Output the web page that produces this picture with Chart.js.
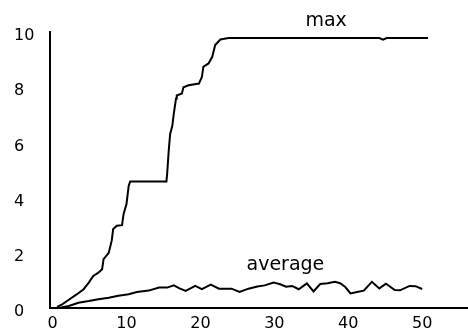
<!DOCTYPE html>
<html>
<head>
<meta charset="utf-8">
<script src="https://cdn.jsdelivr.net/npm/chart.js@4/dist/chart.umd.min.js"></script>
<style>
  body { margin: 0; background: #fff; }
  #wrap { width: 468px; height: 331px; }
</style>
</head>
<body>
<div id="wrap"><canvas id="grafica" width="468" height="331"></canvas></div>
<script>
// generation / fitness values
var maxX = [0.6, 1.3, 2.2, 3.3, 4.2, 4.9, 5.5, 6.2, 6.7, 6.9, 7.6, 8.0, 8.2, 8.7, 9.4, 9.6, 10.0, 10.3, 10.5,
            15.4, 15.5, 15.7, 15.9, 16.2, 16.4, 16.7, 16.8, 17.5, 17.7, 18.4, 19.8, 20.2, 20.4, 21.1, 21.6,
            22.0, 22.7, 23.8, 30, 40, 44.2, 44.7, 45.2, 50.8];
var maxY = [0.04, 0.13, 0.3, 0.5, 0.68, 0.92, 1.16, 1.28, 1.4, 1.77, 2.0, 2.44, 2.86, 2.98, 3.0, 3.4, 3.77, 4.43, 4.58,
            4.58, 4.86, 5.65, 6.3, 6.6, 7.04, 7.59, 7.7, 7.77, 8.0, 8.07, 8.13, 8.37, 8.74, 8.86, 9.1,
            9.53, 9.73, 9.78, 9.78, 9.78, 9.78, 9.72, 9.78, 9.78];

var avgX = [0.8, 2.2, 3.5, 4.9, 6.2, 7.6, 8.9, 10.3, 11.4, 13.0, 14.4, 15.5, 16.4, 17.1, 18.0, 19.3, 20.2,
            21.4, 22.5, 24.2, 25.3, 26.5, 27.7, 28.7, 29.9, 30.8, 31.6, 32.4, 33.3, 34.4, 35.3, 36.2,
            37.2, 38.2, 38.9, 39.6, 40.3, 41.2, 42.1, 43.2, 44.2, 45.1, 46.3, 47.0, 48.3, 49.1, 50.0];
var avgY = [0, 0.07, 0.19, 0.25, 0.32, 0.37, 0.44, 0.5, 0.58, 0.63, 0.74, 0.74, 0.82, 0.72, 0.62, 0.8, 0.68,
            0.85, 0.7, 0.7, 0.58, 0.7, 0.78, 0.82, 0.92, 0.86, 0.77, 0.8, 0.68, 0.89, 0.6, 0.87,
            0.9, 0.95, 0.9, 0.76, 0.53, 0.58, 0.63, 0.95, 0.71, 0.88, 0.65, 0.64, 0.8, 0.79, 0.69];

var xTicks = [0, 10, 20, 30, 40, 50];
var yTicks = [0, 2, 4, 6, 8, 10];

// curve names, placed at a data position
var seriesNames = ['max', 'average'];
var nameAtX = [37, 31.5];
var nameAtY = [10.22, 1.38];

function pts(xs, ys) {
    return xs.map(function(x, i){ return {x: x, y: ys[i]}; });
}

var fuente = {family: '"DejaVu Sans", sans-serif', size: 16, lineHeight: 1};

var nombres = {
    id: 'nombres',
    afterDatasetsDraw: function(chart){
        var ctx = chart.ctx;
        var sx = chart.scales.x, sy = chart.scales.y;
        ctx.save();
        ctx.fillStyle = '#000';
        ctx.font = '19px "DejaVu Sans", sans-serif';
        ctx.textAlign = 'center';
        ctx.textBaseline = 'alphabetic';
        seriesNames.forEach(function(n, i){
            ctx.fillText(n, sx.getPixelForValue(nameAtX[i]), sy.getPixelForValue(nameAtY[i]));
        });
        ctx.restore();
    }
};

var grafica = document.getElementById('grafica');
var myChart = new Chart(grafica, {
    type: 'line',
    data: {
        datasets: [{
            label: seriesNames[0],
            data: pts(maxX, maxY),
            borderColor: '#000',
            borderWidth: 2,
            pointRadius: 0,
            tension: 0,
            fill: false
        }, {
            label: seriesNames[1],
            data: pts(avgX, avgY),
            borderColor: '#000',
            borderWidth: 2,
            pointRadius: 0,
            tension: 0,
            fill: false
        }]
    },
    options: {
        responsive: false,
        animation: false,
        events: [],
        layout: {padding: {left: 14, top: 32, right: 0, bottom: -9}},
        plugins: {legend: {display: false}, tooltip: {enabled: false}},
        scales: {
            x: {
                type: 'linear',
                min: -0.3,
                max: 56.2,
                afterBuildTicks: function(scale){
                    scale.ticks = xTicks.map(function(v){ return {value: v}; });
                },
                grid: {display: false, drawTicks: false},
                border: {display: true, color: '#000', width: 2},
                ticks: {color: '#000', font: fuente, padding: 8, maxRotation: 0}
            },
            y: {
                type: 'linear',
                min: 0,
                max: 10,
                afterBuildTicks: function(scale){
                    scale.ticks = yTicks.map(function(v){ return {value: v}; });
                },
                grid: {display: false, drawTicks: false},
                border: {display: true, color: '#000', width: 2},
                ticks: {color: '#000', font: fuente, padding: 8, crossAlign: 'far', labelOffset: 4}
            }
        }
    },
    plugins: [nombres]
});
</script>
</body>
</html>
